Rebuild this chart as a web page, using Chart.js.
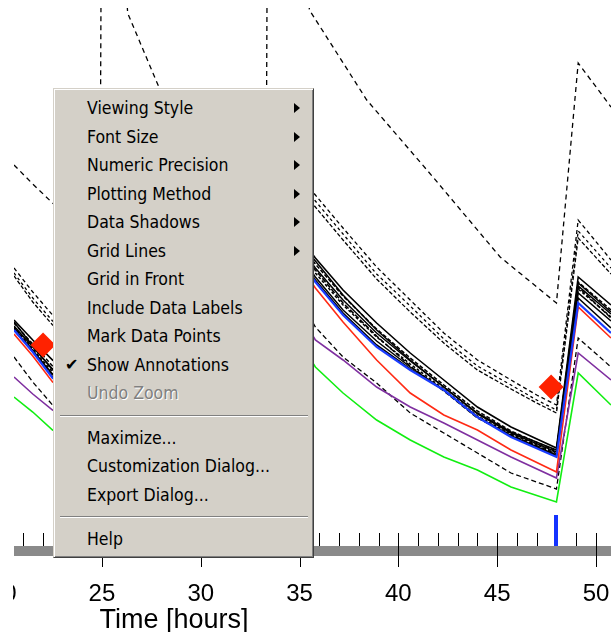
<!DOCTYPE html>
<html><head><meta charset="utf-8">
<script src="https://cdn.jsdelivr.net/npm/chart.js@4/dist/chart.umd.min.js"></script>
<style>
html,body{margin:0;padding:0;background:#fff;width:611px;height:632px;overflow:hidden;}
#clip{position:absolute;left:13px;top:0;width:598px;height:632px;overflow:hidden;}
#wrap{position:absolute;left:-13px;top:0;width:611px;height:632px;}
#menu{position:absolute;left:53px;top:88px;width:261px;height:470px;background:#D4D0C8;box-sizing:border-box;
 border-style:solid;border-width:1px;border-color:#D4D0C8 #404040 #404040 #D4D0C8;
 box-shadow:inset 1px 1px 0 #fff, inset -1px -1px 0 #808080;
 font-family:"DejaVu Sans Condensed","DejaVu Sans",sans-serif;font-size:17.5px;color:#000;}
.item{position:absolute;left:33px;height:28px;line-height:28px;white-space:nowrap;}
.dis{color:#808080;text-shadow:1px 1px 0 #fff;}
.arr{position:absolute;left:240px;width:0;height:0;border-left:6px solid #000;border-top:5px solid transparent;border-bottom:5px solid transparent;}
.sep{position:absolute;left:6px;width:248px;height:1px;background:#808080;border-bottom:1px solid #fff;}
.chk{position:absolute;left:11px;height:28px;line-height:28px;font-family:"DejaVu Sans",sans-serif;font-size:16px;}
</style></head>
<body>
<div id="clip"><div id="wrap"><canvas id="c" width="611" height="632"></canvas></div></div>
<div id="menu">
 <div class="item" style="top:5px">Viewing Style</div><div class="arr" style="top:14px"></div>
 <div class="item" style="top:33.5px">Font Size</div><div class="arr" style="top:42.5px"></div>
 <div class="item" style="top:62px">Numeric Precision</div><div class="arr" style="top:71px"></div>
 <div class="item" style="top:90.5px">Plotting Method</div><div class="arr" style="top:99.5px"></div>
 <div class="item" style="top:119px">Data Shadows</div><div class="arr" style="top:128px"></div>
 <div class="item" style="top:147.5px">Grid Lines</div><div class="arr" style="top:156.5px"></div>
 <div class="item" style="top:176px">Grid in Front</div>
 <div class="item" style="top:204.5px">Include Data Labels</div>
 <div class="item" style="top:233px">Mark Data Points</div>
 <div class="chk" style="top:262px">✔</div>
 <div class="item" style="top:261.5px">Show Annotations</div>
 <div class="item dis" style="top:290px">Undo Zoom</div>
 <div class="sep" style="top:326px"></div>
 <div class="item" style="top:334.5px">Maximize...</div>
 <div class="item" style="top:363px">Customization Dialog...</div>
 <div class="item" style="top:392px">Export Dialog...</div>
 <div class="sep" style="top:427px"></div>
 <div class="item" style="top:435.5px">Help</div>
</div>
<script>
// ---- data (time in hours, level in plot units) ----
const tickHours = [20, 25, 30, 35, 40, 45, 50];
const markerHours = [48];
const T = [20.55,21.5,22.5,24.5,25.5,33,34,35.8,37.2,38.9,40.6,42.3,44.0,45.7,48.0,49.1,50.76];
const blue   = [21.6,19.4,16.8,14.5,31.0,17.5,31.5,26.4,23.1,19.9,17.6,15.6,12.9,10.9,8.9,24.3,21.3];
const red    = [21.2,19.0,16.4,14.2,30.5,17.2,31.0,25.8,22.4,18.6,15.3,13.1,11.6,9.6,7.4,23.9,20.8];
const purple = [16.9,15.2,13.6,12.0,26.0,14.5,26.5,20.6,18.6,15.9,13.9,12.3,10.6,8.9,6.8,19.3,16.6];
const green  = [14.9,13.4,11.6,10.0,23.0,12.5,23.5,17.9,15.3,12.6,10.6,8.9,7.6,5.9,4.4,17.3,14.1];
const dashK  = [18.9,16.4,14.1,12.5,28.0,15.5,28.5,21.9,18.9,16.3,13.3,11.3,9.3,7.3,5.7,20.8,17.9];
const b1 = [22.6,20.6,18.6,16.2,33.0,19.2,33.6,28.8,25.6,22.3,19.3,16.6,13.9,11.9,9.8,26.9,24.1];
const b2 = [22.3,20.2,18.0,15.8,32.5,18.8,33.0,28.2,25.0,21.7,18.8,16.1,13.5,11.5,9.5,26.4,23.6];
const b3 = [22.0,19.9,17.7,15.5,32.2,18.5,32.7,27.8,24.6,21.3,18.5,15.9,13.2,11.3,9.4,26.0,23.2];
const b4 = [21.9,19.7,17.4,15.3,31.8,18.2,32.3,27.3,24.1,20.9,18.2,15.7,13.0,11.2,9.3,25.7,22.9];
const b5 = [21.7,19.5,17.2,15.0,31.5,17.9,32.0,26.9,23.6,20.5,17.9,15.6,12.9,11.0,9.1,25.3,22.5];
const b6 = [21.8,19.6,17.1,14.9,31.3,17.8,31.8,27.6,24.3,21.0,18.0,15.5,12.8,11.1,9.2,25.9,22.8];
const b7 = [22.4,20.0,17.6,15.6,32.3,18.6,32.8,28.5,25.1,21.6,18.6,15.9,13.3,11.4,9.6,26.3,23.4];
const b8 = [21.6,19.5,16.9,14.6,31.1,17.6,31.6,26.6,23.3,20.1,17.7,15.6,12.9,11.0,9.0,24.8,21.8];
const T2 = [20.55,21.5,22.5,24.9,25.9,32.5,33.5,35.8,37.2,38.9,40.6,42.3,44.0,45.7,47.0,48.0,49.1,50.76];
const d2a = [27.8,25.4,23.1,20.5,38.0,25.0,40.5,35.1,31.8,27.9,24.6,21.3,18.6,16.6,15.1,14.1,32.6,28.6];
const d2b = [27.3,24.8,22.5,20.0,37.5,24.5,40.0,34.5,31.2,27.2,24.0,20.7,18.0,16.1,14.6,13.6,31.5,27.8];
const d2c = [27.0,24.4,22.1,19.6,37.0,24.0,39.5,33.9,30.6,26.7,23.4,20.3,17.6,15.7,14.3,13.3,30.8,27.2];
const T1 = [20.55,21.5,22.5,24.9,25.05,26.3,27.9,30,33.3,33.45,35.5,38.4,41.75,45.15,48.0,49.1,50.76];
const d1 = [38.1,36.2,34.3,30.6,100,53.3,45.8,38.0,30.0,100,53.6,44.6,36.9,28.9,24.3,48.3,43.9];
const annotX = [22.02, 47.73];
const annotY = [20.1, 15.9];

const pts = (tt, vv) => tt.map((t, i) => ({x: t, y: vv[i]}));
const line = (label, tt, vv, color, width, dash) => ({
  type: 'line', label, data: pts(tt, vv), borderColor: color, borderWidth: width,
  borderDash: dash || [], pointRadius: 0, tension: 0, fill: false
});

const datasets = [
  {type: 'scatter', label: 'Annotations', data: pts(annotX, annotY), pointStyle: 'rectRot',
   pointRadius: 12.5, backgroundColor: '#ff2200', borderWidth: 0},
  line('Blue', T, blue, '#1a3cff', 2.2),
  line('Red', T, red, '#ff2a14', 1.6),
  line('B1', T, b1, '#000', 1.6),
  line('B2', T, b2, '#000', 1.5, [4, 2]),
  line('B3', T, b3, '#000', 1.5),
  line('B4', T, b4, '#000', 1.5, [3, 2]),
  line('B5', T, b5, '#000', 1.5),
  line('B6', T, b6, '#000', 1.5, [5, 2]),
  line('B7', T, b7, '#000', 1.5),
  line('B8', T, b8, '#000', 1.6),
  line('Purple', T, purple, '#7f2fa0', 1.6),
  line('K', T, dashK, '#000', 1.3, [5, 3]),
  line('Green', T, green, '#11ee11', 1.6),
  line('D2a', T2, d2a, '#000', 1.3, [4, 3]),
  line('D2b', T2, d2b, '#000', 1.3, [3, 3]),
  line('D2c', T2, d2c, '#000', 1.3, [4, 2]),
  line('D1', T1, d1, '#000', 1.3, [5, 4])
];

const axisDeco = {
  id: 'axisDeco',
  afterDatasetsDraw(chart) {
    const {ctx, chartArea: a, scales: {x}} = chart;
    ctx.save();
    ctx.fillStyle = '#8a8a8a';
    ctx.fillRect(a.left, a.bottom, a.right - a.left, 10);
    ctx.strokeStyle = '#000'; ctx.lineWidth = 1;
    for (let v = Math.ceil(x.min); v <= x.max; v++) {
      const px = Math.round(x.getPixelForValue(v)) + 0.5;
      ctx.beginPath();
      ctx.moveTo(px, a.bottom - 13);
      ctx.lineTo(px, v % 5 === 0 ? a.bottom + 21 : a.bottom);
      ctx.stroke();
    }
    ctx.fillStyle = '#1432ff';
    markerHours.forEach(h => {
      const mx = Math.round(x.getPixelForValue(h));
      ctx.fillRect(mx - 2, a.bottom - 31, 4, 31);
    });
    const t = x.options.title;
    ctx.fillStyle = '#000';
    ctx.font = '27px "Liberation Sans", Arial, sans-serif';
    ctx.textAlign = 'center';
    ctx.textBaseline = 'alphabetic';
    ctx.fillText(t.text, 174, 628);
    ctx.restore();
  }
};

new Chart(document.getElementById('c'), {
  data: {datasets},
  options: {
    responsive: false, animation: false, devicePixelRatio: 1,
    layout: {autoPadding: false, padding: {left: 14, top: 8, right: 0, bottom: 0}},
    plugins: {legend: {display: false}, tooltip: {enabled: false}},
    scales: {
      x: {
        type: 'linear', min: 20.55, max: 50.76,
        grid: {display: false, drawTicks: false}, border: {display: false},
        afterBuildTicks: s => { s.ticks = tickHours.map(v => ({value: v})); },
        afterFit: s => { s.height = 86; s.paddingLeft = 0; s.paddingRight = 0; },
        ticks: {autoSkip: false, maxRotation: 0, padding: 34, color: '#000',
                font: {family: '"Liberation Sans", Arial, sans-serif', size: 24}},
        title: {display: false, text: 'Time [hours]'}
      },
      y: {display: false, min: 0, max: 53.8}
    }
  },
  plugins: [axisDeco]
});
</script>
</body></html>
